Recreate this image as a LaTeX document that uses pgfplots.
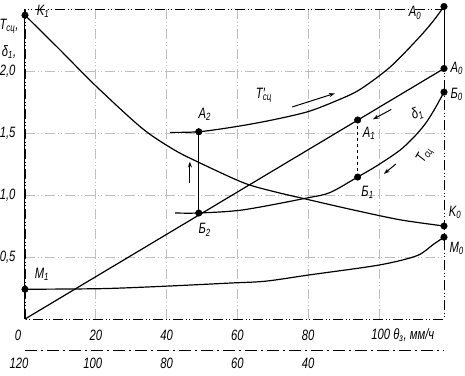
\documentclass[border=0pt]{standalone}
\usepackage{pgfplots}
\pgfplotsset{compat=1.18}
\usepackage{fontspec}
\setmainfont{Liberation Sans}[FakeStretch=0.75]
\usetikzlibrary{arrows.meta}
\tikzset{gridst/.style={line width=0.6pt, dash pattern=on 10pt off 3pt on 1pt off 2pt on 1pt off 3pt}}
\begin{document}
\begin{tikzpicture}[font=\fontsize{15}{16}\selectfont\itshape]
\begin{axis}[
  scale only axis, width=419pt, height=310pt,
  xmin=0, xmax=118.4, ymin=0, ymax=2.5,
  clip=false,
  xtick={20,40,60,80,100}, ytick={0.5,1,1.5,2},
  xticklabels={}, yticklabels={},
  major tick length=0pt,
  grid=major,
  major grid style={gridst},
  axis line style={gridst},
]
% curves
\addplot[black, line width=1.2pt, smooth] coordinates {
 (0,2.45) (9.9,2.17) (20,1.88) (33,1.54) (41.8,1.37) (48.6,1.27) (61.6,1.10)
 (70,1.03) (79.7,0.965) (92.7,0.88) (106,0.80) (118.4,0.75)};
\addplot[black, line width=1.2pt] coordinates {(0,0) (118.4,2.02)};
\addplot[black, line width=1.2pt, smooth] coordinates {
 (41,1.505) (49.1,1.51) (59.3,1.55) (69,1.60) (79.7,1.67) (88,1.76) (94.6,1.85)
 (103.1,2.03) (110.7,2.25) (115,2.39) (118.4,2.52)};
\addplot[black, line width=1.2pt, smooth] coordinates {
 (42.4,0.855) (49.1,0.855) (61.6,0.88) (79.7,0.976) (86.2,1.02) (94,1.145)
 (99.4,1.235) (105.9,1.36) (110,1.47) (113,1.57) (115.5,1.68) (118.4,1.83)};
\addplot[black, line width=1.2pt, smooth] coordinates {
 (0,0.24) (21.8,0.245) (40,0.265) (58,0.29) (68,0.305) (80.2,0.355) (100,0.435)
 (110.7,0.51) (115.3,0.60) (118.4,0.66)};
% verticals
\addplot[black, line width=1pt] coordinates {(49.1,0.855) (49.1,1.51)};
\addplot[black, line width=0.8pt, dashed] coordinates {(94,1.145) (94,1.605)};
\addplot[black, line width=1pt] coordinates {(0,0) (0,2.5)};
\addplot[black, line width=1pt] coordinates {(118.4,2.02) (118.4,2.52)};
% points
\addplot[only marks, mark=*, mark size=3.3pt, black] coordinates {
 (0,2.45) (118.4,0.75) (49.1,1.51) (49.1,0.855) (94,1.605) (94,1.145)
 (118.4,2.02) (118.4,2.52) (118.4,1.83) (0,0.24) (118.4,0.66)};
% arrows
\draw[black, line width=1pt, -{Stealth[length=6pt,width=4pt]}] (axis cs:75.5,1.71) -- (axis cs:87.6,1.82);
\draw[black, line width=1pt, -{Stealth[length=6pt,width=4pt]}] (axis cs:104.8,1.25) -- (axis cs:101.4,1.17);
\draw[black, line width=1pt, -{Stealth[length=6pt,width=4pt]}] (axis cs:103.5,1.69) -- (axis cs:98.3,1.61);
\draw[black, line width=1pt, -{Stealth[length=6pt,width=4pt]}] (axis cs:46.6,1.10) -- (axis cs:46.6,1.27);
% curve labels
\node at (axis cs:5.1,2.48) {K\textsubscript{1}};
\node at (axis cs:121.5,0.86) {K\textsubscript{0}};
\node at (axis cs:50.8,1.65) {A\textsubscript{2}};
\node at (axis cs:50.8,0.72) {Б\textsubscript{2}};
\node at (axis cs:97.2,1.50) {A\textsubscript{1}};
\node at (axis cs:96.8,1.02) {Б\textsubscript{1}};
\node at (axis cs:122,2.02) {A\textsubscript{0}};
\node at (axis cs:110.2,2.47) {A\textsubscript{0}};
\node at (axis cs:122,1.81) {Б\textsubscript{0}};
\node at (axis cs:4.8,0.36) {M\textsubscript{1}};
\node at (axis cs:122,0.57) {M\textsubscript{0}};
\node at (axis cs:67.5,1.80) {T′\kern-2pt\textsubscript{сц}};
\node[rotate=60] at (axis cs:113,1.32) {T\textsubscript{сц}};
\node[rotate=20] at (axis cs:110.8,1.66) {δ\textsubscript{1}};
% y labels
\node[anchor=east] at ([xshift=-6pt]axis cs:0,0.5) {0,5};
\node[anchor=east] at ([xshift=-6pt]axis cs:0,1.0) {1,0};
\node[anchor=east] at ([xshift=-6pt]axis cs:0,1.5) {1,5};
\node[anchor=east] at ([xshift=-6pt]axis cs:0,2.0) {2,0};
\node at ([xshift=-16pt]axis cs:0,2.36) {T\textsubscript{сц},};
\node at ([xshift=-16pt]axis cs:0,2.15) {δ\textsubscript{1},};
% x labels row 1
\node at ([xshift=-7pt,yshift=-16pt]axis cs:0,0) {0};
\node at ([yshift=-16pt]axis cs:20,0) {20};
\node at ([yshift=-16pt]axis cs:40,0) {40};
\node at ([yshift=-16pt]axis cs:60,0) {60};
\node at ([yshift=-16pt]axis cs:80,0) {80};
\node[anchor=west] at ([xshift=-11pt,yshift=-16pt]axis cs:100,0) {100 θ\textsubscript{з}, мм/ч};
% secondary axis
\draw[line width=0.6pt, dash pattern=on 12pt off 4pt on 2pt off 4pt] ([yshift=-31pt]axis cs:0,0) -- ([yshift=-31pt]axis cs:118.4,0);
\node at ([xshift=-6pt,yshift=-44pt]axis cs:0,0) {120};
\node at ([xshift=-3pt,yshift=-44pt]axis cs:20,0) {100};
\node at ([yshift=-44pt]axis cs:40,0) {80};
\node at ([yshift=-44pt]axis cs:60,0) {60};
\node at ([yshift=-44pt]axis cs:80,0) {40};
\end{axis}
\pgfresetboundingbox
\path[use as bounding box] (-25pt,-56pt) rectangle (440pt,319pt);
\end{tikzpicture}
\end{document}
